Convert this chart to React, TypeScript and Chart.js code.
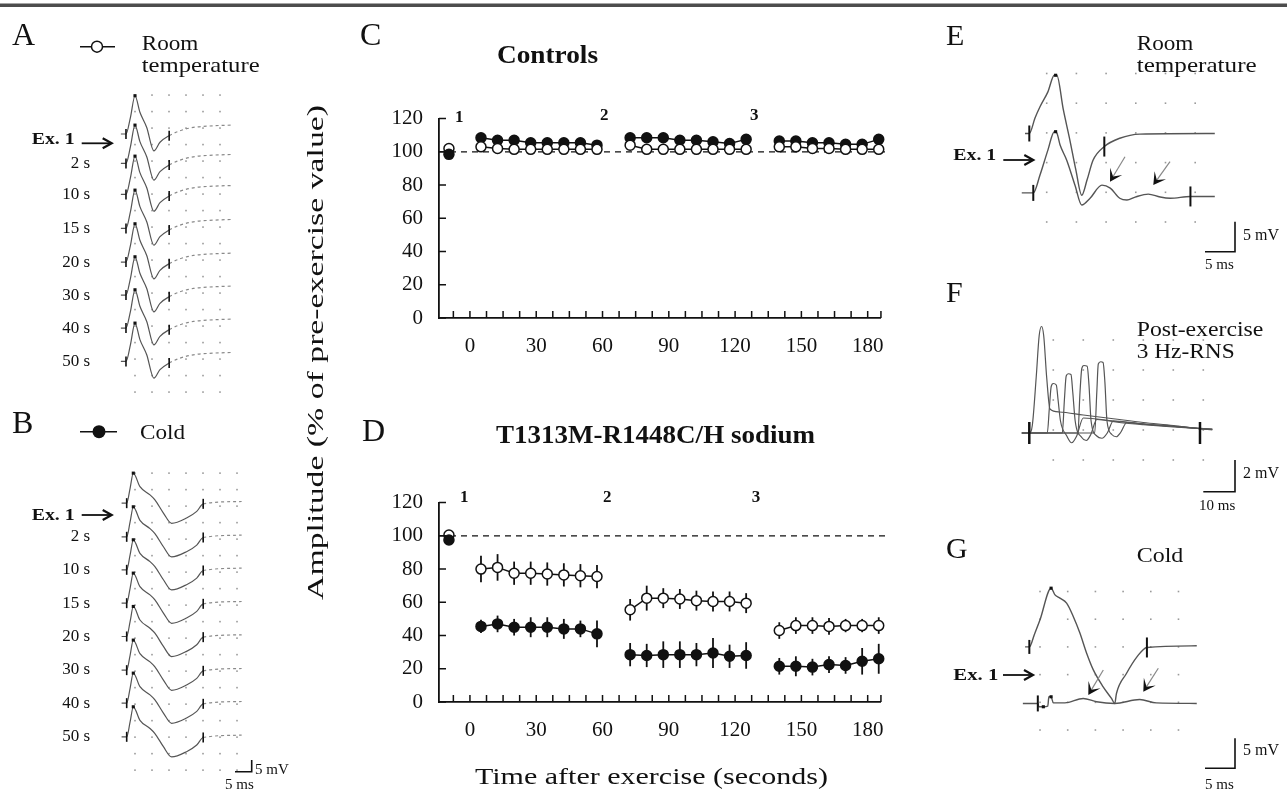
import React, { useEffect, useRef } from "react";
import { Chart, registerables } from "chart.js";

Chart.register(...registerables);

const FONT = "'Liberation Serif', 'Times New Roman', Times, serif";
const INK = "#111";
const TRACE = "#555";

// ---------------- Panels C & D (amplitude vs time) ----------------
const PRE_X = -9.5;
const BLOCK1_X = [5, 12.5, 20, 27.5, 35, 42.5, 50, 57.5];
const BLOCK2_X = [72.5, 80, 87.5, 95, 102.5, 110, 117.5, 125];
const BLOCK3_X = [140, 147.5, 155, 162.5, 170, 177.5, 185];
const X_TICK_LABELS = [0, 30, 60, 90, 120, 150, 180];
const X_MINOR_TICKS = [-7.5, 0, 7.5, 15, 22.5, 30, 37.5, 45, 52.5, 60, 67.5, 75, 82.5, 90, 97.5, 105, 112.5, 120, 127.5, 135, 142.5, 150, 157.5, 165, 172.5, 180];
const Y_TICKS = [0, 20, 40, 60, 80, 100, 120];

// Controls (C)
const C_ROOM_PRE = 102;
const C_COLD_PRE = 98.5;
const C_ROOM_1 = [103, 102, 101.5, 101.5, 101.5, 101.5, 101.5, 101.5];
const C_ROOM_2 = [104, 101.5, 101.5, 101.5, 101.5, 101.5, 101.5, 101.5];
const C_ROOM_3 = [103, 103, 102, 102, 101.5, 101.5, 101.5];
const C_COLD_1 = [108.5, 107, 107, 105.5, 105.5, 105.5, 105.5, 104];
const C_COLD_2 = [108.5, 108.5, 108.5, 107, 107, 106, 105, 107.5];
const C_COLD_3 = [106.5, 106.5, 105.5, 105.5, 104.5, 104.5, 107.5];

// T1313M-R1448C/H (D)
const D_ROOM_PRE = 100.5;
const D_COLD_PRE = 97.5;
const D_ROOM_1 = [80, 81, 77.5, 77.5, 77, 76.5, 76, 75.5];
const D_ROOM_1_ERR = [8, 8, 7, 7, 7, 7, 7, 7];
const D_ROOM_2 = [55.5, 62.5, 62.5, 62, 61, 60.5, 60.5, 59.5];
const D_ROOM_2_ERR = [6.5, 7.5, 6, 6, 6, 6, 6, 6];
const D_ROOM_3 = [43, 46, 46, 45.5, 46, 46, 46];
const D_ROOM_3_ERR = [5, 5, 5, 5, 4, 4, 5];
const D_COLD_1 = [45.5, 47, 45, 45, 45, 44, 44, 41];
const D_COLD_1_ERR = [4, 5, 5, 6, 6, 6, 5, 8];
const D_COLD_2 = [28.5, 28, 28.5, 28.5, 28.5, 29.5, 27.5, 28];
const D_COLD_2_ERR = [7, 7, 8, 8, 7, 9, 7, 8];
const D_COLD_3 = [21.5, 21.5, 21, 22.5, 22, 24.5, 26];
const D_COLD_3_ERR = [5, 6, 5, 5, 5, 8, 9];

// ---------------- Panel A (room temperature traces, ms / mV) ----------------
const A_TRACE_T = [-1.5, 0, 1.3, 2.65, 4.1, 6.1, 8.2, 10.0, 12.7, 15.9, 19.8, 25.7, 31];
const A_TRACE_V = [0, 0, 5, 11.6, 6.6, 2.0, -5.1, -2.5, -0.5, 1.0, 2.0, 2.5, 2.7];
const A_MARK_IDX = 8;
const A_PEAK_IDX = 3;
const A_START_X = 2.35;
const A_BASELINES = [80.6, 71.7, 62.3, 52.0, 41.8, 31.8, 21.8, 11.7];
const A_LABELS = ["2 s", "10 s", "15 s", "20 s", "30 s", "40 s", "50 s"];

// ---------------- Panel B (cold traces) ----------------
const B_TRACE_T = [-1.5, 0, 1.0, 1.94, 3.9, 6.85, 8.3, 10.8, 13.2, 17.6, 20.6, 22.5, 33.8];
const B_TRACE_V = [0, 0, 4.5, 9.1, 5.0, 2.5, 1.0, -3.0, -6.1, -4.5, -2.5, -0.2, 0.5];
const B_MARK_IDX = 11;
const B_PEAK_IDX = 3;
const B_START_X = 2.56;
const B_BASELINES = [85.4, 75.2, 65.2, 55.1, 45.0, 34.8, 24.8, 14.6];

// ---------------- Panel E (room temperature, two traces) ----------------
const E1_X = [1.35, 2.07, 3.03, 3.87, 5.2, 6.28, 6.7, 7.8, 8.9, 9.9, 10.9, 11.8, 12.8, 14.7, 17.3, 20.7, 33.3];
const E1_Y = [19.9, 19.9, 22.5, 24.4, 26.9, 29.7, 29.7, 23.9, 18.8, 13.8, 9.5, 12.1, 15.4, 17.7, 19.1, 19.8, 19.9];
const E2_X = [0.8, 2.74, 3.87, 5.2, 6.28, 6.7, 7.24, 8.37, 9.76, 10.9, 12.3, 14.3, 15.7, 17.3, 18.5, 19.9, 22.1, 24.1, 25.8, 29.2, 33.3];
const E2_Y = [9.9, 9.9, 12.9, 17.1, 20.2, 20.0, 18.0, 15.4, 11.2, 7.86, 9.0, 11.2, 10.7, 9.0, 8.7, 9.2, 9.7, 9.2, 9.0, 9.3, 9.3];

// ---------------- Panel F (post-exercise 3 Hz RNS) ----------------
const F1_X = [-0.5, 2, 3.0, 4.3, 5.3, 6.1, 6.8, 7.8, 8.9, 12, 20, 30, 40, 50, 58, 63];
const F1_Y = [-0.2, -0.2, 0.3, 3.5, 6.3, 6.9, 6.3, 3.5, 1.4, 1.2, 1.0, 0.75, 0.5, 0.3, 0.1, 0.0];
const F2_X = [-0.5, 2, 8.0, 8.7, 9.3, 10.0, 11.0, 11.6, 12.4, 14.5, 16.1, 17.8, 20, 30, 40, 50, 58, 63];
const F2_Y = [-0.2, -0.2, -0.2, 1.5, 2.9, 3.1, 3.0, 2.0, 0.6, -0.4, -0.85, -0.4, 0.8, 0.6, 0.4, 0.25, 0.1, 0.05];
const F3_X = [-0.5, 2, 13.0, 13.7, 14.3, 15.0, 15.9, 16.5, 17.3, 19.5, 21.0, 22.5, 24.5, 32, 40, 50, 58, 63];
const F3_Y = [-0.2, -0.2, -0.2, 2.0, 3.6, 3.75, 3.7, 2.5, 0.6, -0.5, -0.7, -0.3, 0.7, 0.5, 0.35, 0.2, 0.1, 0.05];
const F4_X = [-0.5, 2, 18.2, 18.9, 19.5, 20.2, 21.3, 21.9, 22.6, 24.5, 26.2, 28, 30, 38, 46, 54, 60, 63];
const F4_Y = [-0.2, -0.2, -0.2, 2.5, 4.1, 4.3, 4.25, 3.0, 0.6, -0.4, -0.55, -0.2, 0.6, 0.45, 0.3, 0.2, 0.1, 0.05];
const F5_X = [-0.5, 2, 23.8, 24.5, 25.0, 25.8, 26.6, 27.2, 27.9, 29.5, 31.0, 32.5, 34.5, 42, 50, 56, 60, 63];
const F5_Y = [-0.2, -0.2, -0.2, 2.5, 4.4, 4.55, 4.5, 3.2, 0.6, -0.3, -0.45, -0.15, 0.5, 0.35, 0.25, 0.15, 0.08, 0.05];

// ---------------- Panel G (cold, two traces) ----------------
const G1_X = [2.3, 3.07, 4.0, 5.0, 7.0, 7.7, 8.6, 9.8, 11.0, 12.2, 13.4, 14.6, 16.4, 17.9, 18.5, 18.8, 20.6, 22.5, 24.3, 33.3];
const G1_Y = [15.0, 15.0, 17.3, 19.9, 25.6, 24.4, 23.8, 22.9, 20.5, 17.5, 13.9, 10.9, 7.8, 5.7, 4.8, 6.6, 10.2, 13.2, 14.9, 15.2];
const G2_X = [1.9, 4.6, 4.8, 5.6, 6.4, 6.6, 7.0, 7.4, 9.5, 12.8, 15.2, 18.5, 23, 26, 33.3];
const G2_Y = [4.8, 4.8, 4.2, 4.2, 4.3, 6.0, 6.0, 4.9, 4.9, 5.7, 5.1, 4.8, 5.5, 4.9, 4.8];

// ---------------- helpers ----------------
const pts = (xs: number[], ys: number[]) => xs.map((x, i) => ({ x, y: ys[i] }));
const steps = (a: number, b: number, s: number) => {
  const r: number[] = [];
  for (let v = a; v <= b + 1e-9; v += s) r.push(+v.toFixed(3));
  return r;
};

const errorBarsPlugin = {
  id: "errorBars",
  beforeDatasetsDraw(chart: any) {
    const { ctx, scales } = chart;
    ctx.save();
    ctx.strokeStyle = INK;
    ctx.lineWidth = 1.8;
    chart.data.datasets.forEach((ds: any) => {
      if (!ds.errors) return;
      ds.data.forEach((p: any, i: number) => {
        const e = ds.errors[i];
        if (!e) return;
        const px = scales.x.getPixelForValue(p.x);
        ctx.beginPath();
        ctx.moveTo(px, scales.y.getPixelForValue(p.y - e));
        ctx.lineTo(px, scales.y.getPixelForValue(p.y + e));
        ctx.stroke();
      });
    });
    ctx.restore();
  },
};

const refLinePlugin = (value: number) => ({
  id: "refLine",
  beforeDatasetsDraw(chart: any) {
    const { ctx, chartArea, scales } = chart;
    const y = scales.y.getPixelForValue(value);
    ctx.save();
    ctx.strokeStyle = INK;
    ctx.lineWidth = 1.3;
    ctx.setLineDash([6, 5]);
    ctx.beginPath();
    ctx.moveTo(chartArea.left, y);
    ctx.lineTo(chartArea.right + 6, y);
    ctx.stroke();
    ctx.restore();
  },
});

const innerTicksPlugin = (xTicks: number[], yTicks: number[]) => ({
  id: "innerTicks",
  afterDraw(chart: any) {
    const { ctx, chartArea: ca, scales } = chart;
    ctx.save();
    ctx.strokeStyle = INK;
    ctx.lineWidth = 1.5;
    ctx.beginPath();
    xTicks.forEach((v) => {
      const px = scales.x.getPixelForValue(v);
      ctx.moveTo(px, ca.bottom);
      ctx.lineTo(px, ca.bottom - 7);
    });
    ctx.moveTo(ca.right, ca.bottom);
    ctx.lineTo(ca.right, ca.bottom - 7);
    yTicks.forEach((v) => {
      const py = scales.y.getPixelForValue(v);
      ctx.moveTo(ca.left, py);
      ctx.lineTo(ca.left + 7, py);
    });
    ctx.stroke();
    ctx.restore();
  },
});

const dotGridPlugin = (xs: number[], ys: number[]) => ({
  id: "dotGrid",
  beforeDatasetsDraw(chart: any) {
    const { ctx, scales } = chart;
    ctx.save();
    ctx.fillStyle = "#9a9a9a";
    xs.forEach((xv) => {
      const px = scales.x.getPixelForValue(xv);
      ys.forEach((yv) => {
        const py = scales.y.getPixelForValue(yv);
        ctx.fillRect(px - 0.8, py - 0.8, 1.6, 1.6);
      });
    });
    ctx.restore();
  },
});

function mainConfig(p: {
  roomPre: number;
  coldPre: number;
  room: number[][];
  cold: number[][];
  roomErr?: number[][];
  coldErr?: number[][];
}) {
  const base = {
    borderColor: INK,
    borderWidth: 1.5,
    pointRadius: 5,
    pointHoverRadius: 5,
    pointBorderWidth: 1.5,
    pointBorderColor: INK,
    fill: false,
    clip: false as any,
  };
  const open = { ...base, pointBackgroundColor: "#fff", backgroundColor: "#fff" };
  const filled = { ...base, pointBackgroundColor: INK, backgroundColor: INK };
  const blocks = [BLOCK1_X, BLOCK2_X, BLOCK3_X];
  const datasets: any[] = [
    { ...filled, showLine: false, data: [{ x: PRE_X, y: p.coldPre }] },
    { ...open, showLine: false, data: [{ x: PRE_X, y: p.roomPre }] },
    ...blocks.map((bx, i) => ({ ...open, data: pts(bx, p.room[i]), errors: p.roomErr ? p.roomErr[i] : undefined })),
    ...blocks.map((bx, i) => ({ ...filled, data: pts(bx, p.cold[i]), errors: p.coldErr ? p.coldErr[i] : undefined })),
  ];
  const tickFont = { family: FONT, size: 21 };
  return {
    type: "line",
    data: { datasets },
    options: {
      animation: false,
      responsive: false,
      maintainAspectRatio: false,
      events: [],
      layout: { padding: { top: 13, right: 19, left: 0, bottom: 0 }, autoPadding: false },
      plugins: { legend: { display: false }, tooltip: { enabled: false } },
      scales: {
        x: {
          type: "linear",
          min: -14,
          max: 186,
          grid: { display: false, drawTicks: false, tickLength: 0 },
          border: { display: true, color: INK, width: 1.8 },
          afterBuildTicks: (s: any) => {
            s.ticks = X_MINOR_TICKS.map((v) => ({ value: v }));
          },
          ticks: {
            autoSkip: false,
            maxRotation: 0,
            padding: 16,
            color: INK,
            font: tickFont,
            callback: (v: any) => (X_TICK_LABELS.includes(Number(v)) ? String(v) : ""),
          },
          afterFit: (s: any) => {
            s.height = 42;
          },
        },
        y: {
          min: 0,
          max: 120,
          grid: { display: false, drawTicks: false, tickLength: 0 },
          border: { display: true, color: INK, width: 1.8 },
          afterBuildTicks: (s: any) => {
            s.ticks = Y_TICKS.map((v) => ({ value: v }));
          },
          ticks: { padding: 16, color: INK, font: tickFont },
          afterFit: (s: any) => {
            s.width = 79;
          },
        },
      },
    },
    plugins: [errorBarsPlugin, refLinePlugin(100), innerTicksPlugin(X_MINOR_TICKS, Y_TICKS)],
  };
}

type Trace = { data: { x: number; y: number }[]; dashFrom?: number };
type Mark = { x: number; y: number; r: number; w: number };

function traceConfig(p: {
  xMin: number;
  xMax: number;
  yMin: number;
  yMax: number;
  traces: Trace[];
  marks: Mark[];
  squares: { x: number; y: number }[];
  dotsX: number[];
  dotsY: number[];
  width?: number;
}) {
  const datasets: any[] = [
    {
      data: p.marks.map((m) => ({ x: m.x, y: m.y })),
      showLine: false,
      pointStyle: "line",
      pointRotation: 90,
      pointRadius: p.marks.map((m) => m.r),
      pointHoverRadius: p.marks.map((m) => m.r),
      pointBorderWidth: p.marks.map((m) => m.w),
      pointBorderColor: INK,
      borderColor: INK,
      clip: false,
    },
    {
      data: p.squares,
      showLine: false,
      pointStyle: "rect",
      pointRadius: 2.2,
      pointHoverRadius: 2.2,
      pointBorderWidth: 0,
      pointBackgroundColor: INK,
      backgroundColor: INK,
      clip: false,
    },
    ...p.traces.map((t) => ({
      data: t.data,
      borderColor: TRACE,
      borderWidth: p.width || 1.2,
      pointRadius: 0,
      pointHoverRadius: 0,
      cubicInterpolationMode: "monotone",
      fill: false,
      clip: false,
      segment:
        t.dashFrom !== undefined
          ? {
              borderDash: (ctx: any) => (ctx.p0DataIndex >= (t.dashFrom as number) ? [3, 3] : undefined),
              borderColor: (ctx: any) => (ctx.p0DataIndex >= (t.dashFrom as number) ? "#8a8a8a" : undefined),
            }
          : undefined,
    })),
  ];
  return {
    type: "line",
    data: { datasets },
    options: {
      animation: false,
      responsive: false,
      maintainAspectRatio: false,
      events: [],
      layout: { padding: 0, autoPadding: false },
      plugins: { legend: { display: false }, tooltip: { enabled: false } },
      scales: {
        x: { type: "linear", display: false, min: p.xMin, max: p.xMax },
        y: { type: "linear", display: false, min: p.yMin, max: p.yMax },
      },
    },
    plugins: [dotGridPlugin(p.dotsX, p.dotsY)],
  };
}

function stackedTraces(t: number[], v: number[], startX: number, baselines: number[], markIdx: number, peakIdx: number) {
  const traces: Trace[] = baselines.map((b) => ({
    data: t.map((tt, i) => ({ x: startX + tt, y: b + v[i] })),
    dashFrom: markIdx,
  }));
  const marks: Mark[] = [];
  const squares: { x: number; y: number }[] = [];
  baselines.forEach((b) => {
    marks.push({ x: startX, y: b, r: 5, w: 1.6 });
    marks.push({ x: startX + t[markIdx], y: b + v[markIdx], r: 5, w: 1.6 });
    squares.push({ x: startX + t[peakIdx], y: b + v[peakIdx] });
  });
  return { traces, marks, squares };
}

function ChartBox({ left, top, width, height, build }: { left: number; top: number; width: number; height: number; build: () => any }) {
  const ref = useRef<HTMLCanvasElement>(null);
  useEffect(() => {
    const chart = new Chart(ref.current as HTMLCanvasElement, build());
    return () => chart.destroy();
  }, []);
  return (
    <div style={{ position: "absolute", left, top, width, height }}>
      <canvas ref={ref} width={width} height={height} style={{ width, height, display: "block" }} />
    </div>
  );
}

function T(props: { x: number; y: number; size: number; bold?: boolean; w?: number; anchor?: string; children: any; transform?: string }) {
  const { x, y, size, bold, w, anchor, children, transform } = props;
  const extra: any = w ? { textLength: w, lengthAdjust: "spacingAndGlyphs" } : {};
  return (
    <text
      x={x}
      y={y}
      transform={transform}
      fontFamily={FONT}
      fontSize={size}
      fontWeight={bold ? "bold" : "normal"}
      textAnchor={anchor || "start"}
      fill={INK}
      {...extra}
    >
      {children}
    </text>
  );
}

function ExArrow({ x1, x2, y }: { x1: number; x2: number; y: number }) {
  return (
    <g stroke={INK} strokeWidth={1.8} fill="none">
      <line x1={x1} y1={y} x2={x2 - 1} y2={y} />
      <path d={`M${x2 - 9},${y - 5} L${x2},${y} L${x2 - 9},${y + 5}`} strokeWidth={2.2} />
    </g>
  );
}

function Dart({ tx, ty, sx, sy }: { tx: number; ty: number; sx: number; sy: number }) {
  const dx = tx - sx;
  const dy = ty - sy;
  const L = Math.hypot(dx, dy);
  const ux = dx / L;
  const uy = dy / L;
  const back = 12;
  const half = 7;
  const bx = tx - ux * back;
  const by = ty - uy * back;
  const a1 = `${bx - uy * half},${by + ux * half}`;
  const a2 = `${bx + uy * half},${by - ux * half}`;
  const inner = `${tx - ux * 6},${ty - uy * 6}`;
  return (
    <g>
      <line x1={sx} y1={sy} x2={tx - ux * 6} y2={ty - uy * 6} stroke="#888" strokeWidth={1.2} />
      <polygon points={`${tx},${ty} ${a1} ${inner} ${a2}`} fill={INK} />
    </g>
  );
}

function ScaleBar({ x0, x1, y, yTop }: { x0: number; x1: number; y: number; yTop: number }) {
  return <path d={`M${x0},${y} H${x1} V${yTop}`} stroke={INK} strokeWidth={1.6} fill="none" />;
}

export default function App() {
  const a = stackedTraces(A_TRACE_T, A_TRACE_V, A_START_X, A_BASELINES, A_MARK_IDX, A_PEAK_IDX);
  const b = stackedTraces(B_TRACE_T, B_TRACE_V, B_START_X, B_BASELINES, B_MARK_IDX, B_PEAK_IDX);

  const aLabelY = [168, 199, 233, 266.5, 299.5, 332.5, 366];
  const bLabelY = [541, 574, 607.5, 641, 674, 707.5, 741];

  return (
    <div style={{ position: "absolute", left: 0, top: 0, width: 1287, height: 794, background: "#fff", overflow: "hidden" }}>
      <ChartBox
        left={360}
        top={90}
        width={540}
        height={270}
        build={() =>
          mainConfig({
            roomPre: C_ROOM_PRE,
            coldPre: C_COLD_PRE,
            room: [C_ROOM_1, C_ROOM_2, C_ROOM_3],
            cold: [C_COLD_1, C_COLD_2, C_COLD_3],
          })
        }
      />
      <ChartBox
        left={360}
        top={474}
        width={540}
        height={270}
        build={() =>
          mainConfig({
            roomPre: D_ROOM_PRE,
            coldPre: D_COLD_PRE,
            room: [D_ROOM_1, D_ROOM_2, D_ROOM_3],
            cold: [D_COLD_1, D_COLD_2, D_COLD_3],
            roomErr: [D_ROOM_1_ERR, D_ROOM_2_ERR, D_ROOM_3_ERR],
            coldErr: [D_COLD_1_ERR, D_COLD_2_ERR, D_COLD_3_ERR],
          })
        }
      />
      <ChartBox
        left={110}
        top={90}
        width={135}
        height={310}
        build={() =>
          traceConfig({
            xMin: -2.35,
            xMax: 37.35,
            yMin: 0,
            yMax: 93.94,
            traces: a.traces,
            marks: a.marks,
            squares: a.squares,
            dotsX: steps(5, 30, 5),
            dotsY: steps(2.4, 92.4, 5),
          })
        }
      />
      <ChartBox
        left={110}
        top={460}
        width={140}
        height={325}
        build={() =>
          traceConfig({
            xMin: -2.35,
            xMax: 38.82,
            yMin: 0,
            yMax: 98.48,
            traces: b.traces,
            marks: b.marks,
            squares: b.squares,
            dotsX: steps(5, 35, 5),
            dotsY: steps(4.5, 94.5, 5),
          })
        }
      />
      <ChartBox
        left={1010}
        top={60}
        width={215}
        height={180}
        build={() =>
          traceConfig({
            xMin: -1.18,
            xMax: 35.02,
            yMin: 1.97,
            yMax: 32.27,
            traces: [{ data: pts(E1_X, E1_Y) }, { data: pts(E2_X, E2_Y) }],
            marks: [
              { x: 2.07, y: 19.9, r: 8, w: 2 },
              { x: 14.7, y: 17.7, r: 10, w: 2 },
              { x: 2.74, y: 9.9, r: 8, w: 2 },
              { x: 29.2, y: 9.3, r: 10, w: 2 },
            ],
            squares: [
              { x: 6.5, y: 29.7 },
              { x: 6.5, y: 20.2 },
            ],
            dotsX: steps(5, 30, 5),
            dotsY: steps(5, 30, 5),
            width: 1.4,
          })
        }
      />
      <ChartBox
        left={1010}
        top={310}
        width={225}
        height={165}
        build={() =>
          traceConfig({
            xMin: -4.43,
            xMax: 70.57,
            yMin: -3,
            yMax: 8,
            traces: [
              { data: pts(F1_X, F1_Y) },
              { data: pts(F2_X, F2_Y) },
              { data: pts(F3_X, F3_Y) },
              { data: pts(F4_X, F4_Y) },
              { data: pts(F5_X, F5_Y) },
            ],
            marks: [
              { x: 2, y: -0.2, r: 11, w: 2.5 },
              { x: 58.9, y: -0.2, r: 11, w: 2.5 },
            ],
            squares: [],
            dotsX: steps(10, 60, 10),
            dotsY: steps(-2, 6, 2),
            width: 1.2,
          })
        }
      />
      <ChartBox
        left={1010}
        top={575}
        width={200}
        height={165}
        build={() =>
          traceConfig({
            xMin: -0.42,
            xMax: 35.69,
            yMin: -1.8,
            yMax: 27.98,
            traces: [{ data: pts(G1_X, G1_Y) }, { data: pts(G2_X, G2_Y) }],
            marks: [
              { x: 3.07, y: 15.0, r: 7, w: 2 },
              { x: 24.3, y: 14.9, r: 10, w: 2 },
              { x: 4.6, y: 4.8, r: 8, w: 2 },
            ],
            squares: [
              { x: 7.0, y: 25.6 },
              { x: 5.6, y: 4.2 },
              { x: 7.0, y: 6.0 },
            ],
            dotsX: steps(5, 30, 5),
            dotsY: steps(0, 25, 5),
            width: 1.4,
          })
        }
      />

      <svg
        width={1287}
        height={794}
        style={{ position: "absolute", left: 0, top: 0, pointerEvents: "none" }}
      >
        <rect x={0} y={3.5} width={1287} height={3.5} fill="#4d4d4d" />

        {/* Panel A */}
        <T x={12} y={45} size={32}>A</T>
        <line x1={80} y1={46.7} x2={115} y2={46.7} stroke={INK} strokeWidth={1.5} />
        <circle cx={97} cy={46.7} r={5.5} fill="#fff" stroke={INK} strokeWidth={1.5} />
        <T x={141.7} y={50} size={22} w={56.7}>Room</T>
        <T x={141.7} y={71.7} size={22} w={118}>temperature</T>
        <T x={31.7} y={144} size={17} bold w={43}>Ex. 1</T>
        <ExArrow x1={81.7} x2={111.7} y={143.3} />
        {A_LABELS.map((l, i) => (
          <T key={l} x={90} y={aLabelY[i]} size={17} anchor="end">
            {l}
          </T>
        ))}

        {/* Panel B */}
        <T x={12} y={433} size={32}>B</T>
        <line x1={80} y1={431.7} x2={117} y2={431.7} stroke={INK} strokeWidth={1.5} />
        <circle cx={99} cy={431.7} r={6.5} fill={INK} />
        <T x={140} y={439} size={22} w={45}>Cold</T>
        <T x={31.7} y={520} size={17} bold w={43}>Ex. 1</T>
        <ExArrow x1={81.7} x2={111.7} y={515} />
        {A_LABELS.map((l, i) => (
          <T key={"b" + l} x={90} y={bLabelY[i]} size={17} anchor="end">
            {l}
          </T>
        ))}
        <ScaleBar x0={235} x1={251.7} y={771.7} yTop={760} />
        <T x={255} y={774} size={15}>5 mV</T>
        <T x={225} y={789} size={15}>5 ms</T>

        {/* Panels C & D */}
        <T x={360} y={45} size={32}>C</T>
        <T x={497} y={62.7} size={26} bold w={101}>Controls</T>
        <T x={455} y={121.7} size={17} bold>1</T>
        <T x={600} y={120} size={17} bold>2</T>
        <T x={750} y={120} size={17} bold>3</T>

        <T x={362} y={441} size={32}>D</T>
        <T x={496} y={442.7} size={26} bold w={319}>T1313M-R1448C/H sodium</T>
        <T x={460} y={501.7} size={17} bold>1</T>
        <T x={603} y={501.7} size={17} bold>2</T>
        <T x={751.7} y={501.7} size={17} bold>3</T>

        <T x={0} y={0} size={24} anchor="middle" w={495} transform="translate(323,352.5) rotate(-90)">
          Amplitude (% of pre-exercise value)
        </T>
        <T x={651.5} y={783.5} size={24} anchor="middle" w={353}>
          Time after exercise (seconds)
        </T>

        {/* Panel E */}
        <T x={946} y={45} size={30}>E</T>
        <T x={1136.7} y={50} size={22} w={56.7}>Room</T>
        <T x={1136.7} y={71.7} size={22} w={120}>temperature</T>
        <T x={953.3} y={160} size={17} bold w={43}>Ex. 1</T>
        <ExArrow x1={1003.3} x2={1033.3} y={160} />
        <Dart tx={1110} ty={181.7} sx={1125} sy={156.7} />
        <Dart tx={1153.3} ty={185} sx={1170} sy={161.7} />
        <ScaleBar x0={1205} x1={1235} y={251.7} yTop={221.7} />
        <T x={1243} y={240} size={16}>5 mV</T>
        <T x={1205} y={269} size={15}>5 ms</T>

        {/* Panel F */}
        <T x={946} y={301.7} size={30}>F</T>
        <T x={1136.7} y={336} size={22} w={126.7}>Post-exercise</T>
        <T x={1136.7} y={358} size={22} w={98}>3 Hz-RNS</T>
        <ScaleBar x0={1203.3} x1={1235} y={491.7} yTop={460} />
        <T x={1243} y={478} size={16}>2 mV</T>
        <T x={1199} y={510} size={15}>10 ms</T>

        {/* Panel G */}
        <T x={946} y={558.3} size={30}>G</T>
        <T x={1136.7} y={562} size={22} w={46.6}>Cold</T>
        <T x={953.3} y={680} size={17} bold w={45}>Ex. 1</T>
        <ExArrow x1={1003} x2={1033} y={675} />
        <Dart tx={1088.3} ty={695} sx={1103.3} sy={670} />
        <Dart tx={1143.3} ty={691.7} sx={1158.3} sy={668.3} />
        <ScaleBar x0={1205} x1={1235} y={768.3} yTop={738.3} />
        <T x={1243} y={755} size={16}>5 mV</T>
        <T x={1205} y={789.3} size={15}>5 ms</T>
      </svg>
    </div>
  );
}
